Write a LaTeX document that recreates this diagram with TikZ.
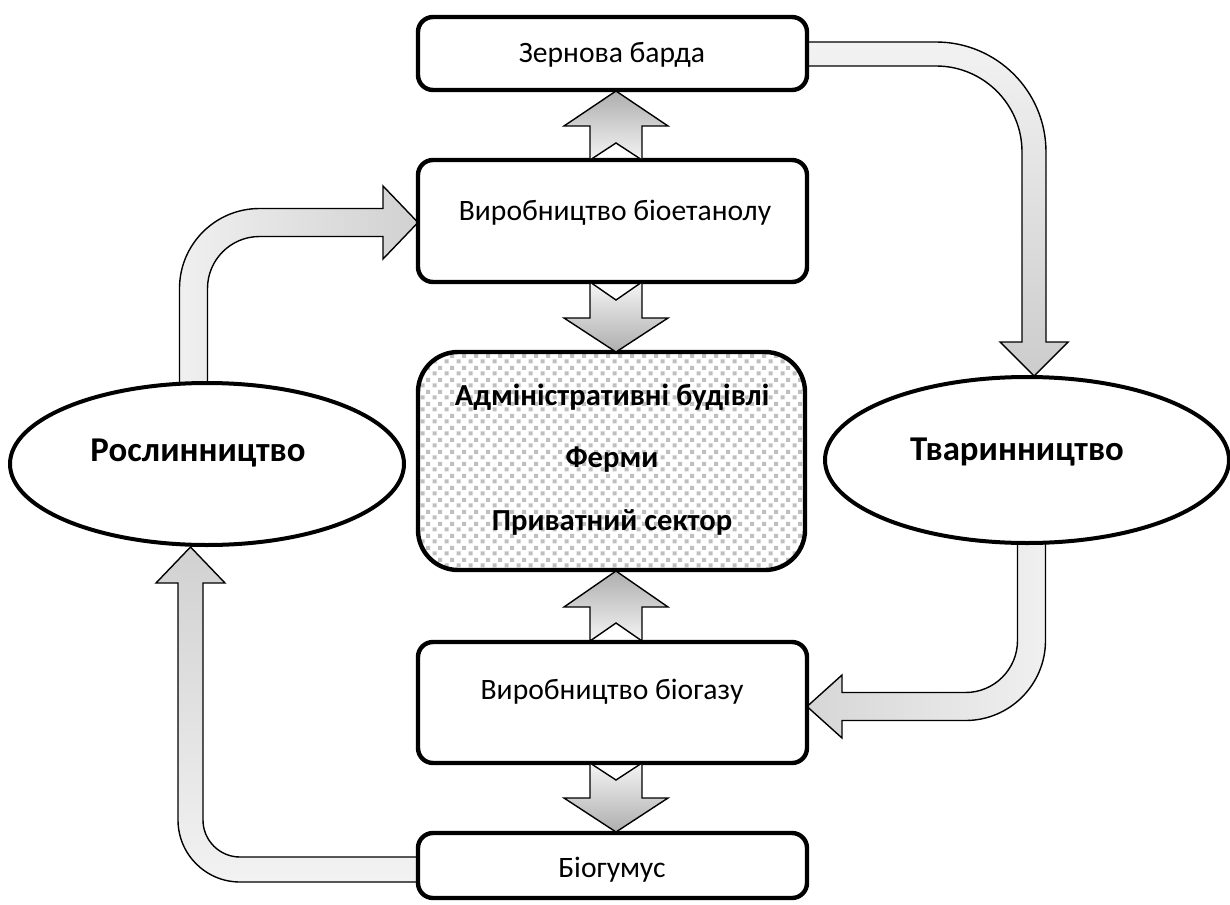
\documentclass[tikz,border=0pt]{standalone}
\usepackage{fontspec}
\setmainfont{Carlito}
\usetikzlibrary{shapes.geometric,patterns}
\pgfdeclarepatternformonly{sqdots}{\pgfqpoint{0pt}{0pt}}{\pgfqpoint{6pt}{6pt}}{\pgfqpoint{6pt}{6pt}}{%
  \pgfpathrectangle{\pgfqpoint{0.3pt}{0.3pt}}{\pgfqpoint{2.2pt}{2.2pt}}%
  \pgfpathrectangle{\pgfqpoint{3.3pt}{3.3pt}}{\pgfqpoint{2.2pt}{2.2pt}}%
  \pgfusepath{fill}}
\begin{document}
\begin{tikzpicture}[x=0.5pt,y=-0.5pt,
  box/.style={draw, line width=2.2pt, rounded corners=7.5pt, fill=white, minimum width=194.5pt, inner sep=0pt},
  cbox/.style={draw, line width=2.2pt, rounded corners=20pt, preaction={fill=white}, pattern=sqdots, pattern color=black!25, minimum width=193.5pt, minimum height=109pt, inner sep=0pt},
  ell/.style={draw, ellipse, line width=2pt, fill=white, inner sep=0pt},
  txt/.style={font=\fontsize{14.8}{17}\selectfont, inner sep=0pt},
  btxt/.style={font=\fontsize{15.3}{18}\selectfont\bfseries, inner sep=0pt},
  etxt/.style={font=\fontsize{17.4}{20}\selectfont\bfseries, inner sep=0pt},
  uparr/.style={draw=black, line width=0.7pt, top color=black!32, bottom color=black!4},
  dnarr/.style={draw=black, line width=0.7pt, top color=black!4, bottom color=black!32},
  carr/.style={draw=black, line width=0.7pt}
]
\useasboundingbox (0,0) rectangle (1230,904);

% curved block arrows (drawn under the nodes)
\coordinate (a1tip) at (418,222.5);
\path[carr, left color=black!6, right color=black!18]
  (207.5,395) -- (207.5,288.5) .. controls (207.5,259.8) and (230.8,236.5) .. (259.5,236.5)
  -- (383,236.5) -- (383,259) -- (a1tip) -- (383,186) -- (383,208.5) -- (259.5,208.5)
  .. controls (215.3,208.5) and (179.5,244.3) .. (179.5,288.5) -- (179.5,395) -- cycle;

\coordinate (a2tip) at (1034,376);
\path[carr, top color=black!5, bottom color=black!20]
  (800,42) -- (936,42) .. controls (996.75,42) and (1046,91.25) .. (1046,152)
  -- (1046,342) -- (1068,342) -- (a2tip) -- (1000,342) -- (1022,342) -- (1022,152)
  .. controls (1022,104.5) and (983.5,66) .. (936,66) -- (800,66) -- cycle;

\coordinate (a3tip) at (807,706.5);
\path[carr, left color=black!16, right color=black!6]
  (1017.5,530) -- (1017.5,640.5) .. controls (1017.5,669.2) and (994.2,692.5) .. (965.5,692.5)
  -- (842,692.5) -- (842,675) -- (a3tip) -- (842,738) -- (842,720.5) -- (965.5,720.5)
  .. controls (1009.7,720.5) and (1045.5,684.7) .. (1045.5,640.5) -- (1045.5,530) -- cycle;

\coordinate (a4tip) at (190.5,547);
\path[carr, top color=black!18, bottom color=black!5]
  (425,857) -- (240,857) .. controls (219.6,857) and (203,840.4) .. (203,820)
  -- (203,583) -- (225,583) -- (a4tip) -- (156,583) -- (178,583) -- (178,820)
  .. controls (178,854.2) and (205.8,882) .. (240,882) -- (425,882) -- cycle;

% nodes
\node[box, minimum height=36.5pt] (Z) at (612.5,53.5) {};
\node[txt] (Zt) at (612,55) {Зернова барда};
\node[box, minimum height=61pt] (B) at (612.5,221) {};
\node[txt] (Bt) at (615,213) {Виробництво біоетанолу};
\node[cbox] (C) at (611.5,461) {};
\node[btxt] (C1) at (612,397) {Адміністративні будівлі};
\node[btxt] (C2) at (612,460) {Ферми};
\node[btxt] (C3) at (612,522) {Приватний сектор};
\node[box, minimum height=60.5pt] (D) at (612.5,702.5) {};
\node[txt] (Dt) at (612,692) {Виробництво біогазу};
\node[box, minimum height=32.5pt] (E) at (612.5,865.5) {};
\node[txt] (Et) at (612,870) {Біогумус};
\node[ell, minimum width=197pt, minimum height=81pt] (R) at (207,464) {};
\node[etxt] (Rt) at (198,453) {Рослинництво};
\node[ell, minimum width=202pt, minimum height=83pt] (T) at (1027,460) {};
\node[etxt] (Tt) at (1017,452) {Тваринництво};

% straight block arrows
\path[uparr] (616,91) -- (668,126) -- (642,126) -- (642,160) -- (616,143) -- (590,160) -- (590,126) -- (564,126) -- cycle;
\path[dnarr] (590,282) -- (616,300) -- (642,282) -- (642,318) -- (668,318) -- (616,352) -- (564,318) -- (590,318) -- cycle;
\path[uparr] (616,571) -- (668,607) -- (642,607) -- (642,641) -- (616,623) -- (590,641) -- (590,607) -- (564,607) -- cycle;
\path[dnarr] (590,763) -- (616,780) -- (642,763) -- (642,798) -- (668,798) -- (616,832) -- (564,798) -- (590,798) -- cycle;
\end{tikzpicture}
\end{document}
